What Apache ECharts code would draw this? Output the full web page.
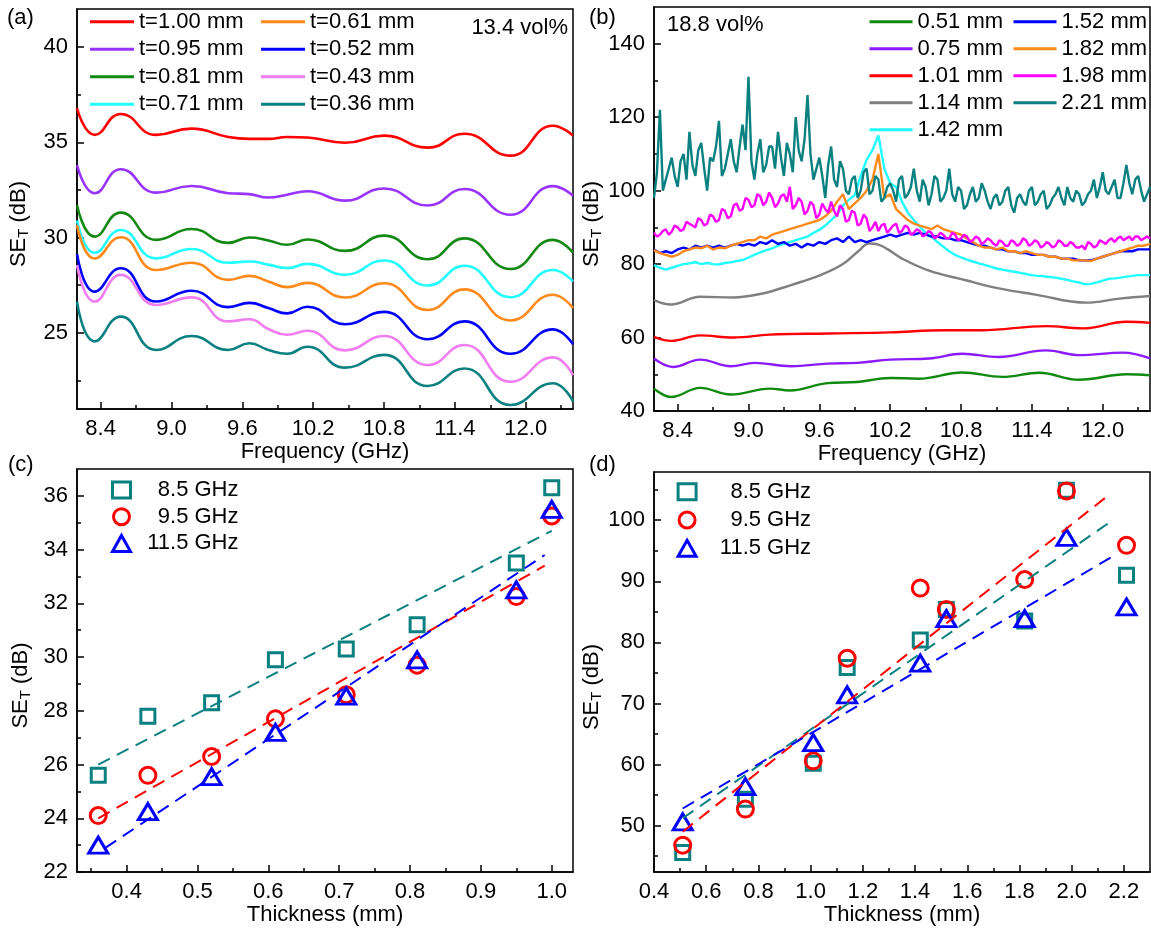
<!DOCTYPE html>
<html><head><meta charset="utf-8">
<script src="https://cdn.jsdelivr.net/npm/echarts@6/dist/echarts.min.js"></script>
<style>html,body{margin:0;padding:0;background:#fff}#c{width:1151px;height:930px}</style>
</head><body><div id="c"></div>
<script>
// ---------------- Panel (a): 13.4 vol%, SE_T vs frequency ----------------
const freqA = [8.20, 8.35, 8.57, 8.87, 9.17, 9.48, 9.66, 9.82, 9.98, 10.15, 10.47, 10.80, 11.17, 11.48, 11.87, 12.23, 12.40];
const a100 = [36.79, 35.39, 36.49, 35.39, 35.72, 35.28, 35.18, 35.18, 35.28, 35.25, 34.98, 35.35, 34.72, 35.45, 34.30, 35.87, 35.35];
const a095 = [33.80, 32.33, 33.59, 32.36, 32.71, 32.33, 32.28, 32.10, 32.25, 32.43, 31.94, 32.58, 31.68, 32.55, 31.20, 32.70, 32.20];
const a081 = [31.70, 30.05, 31.31, 29.88, 30.45, 29.72, 30.00, 29.85, 29.62, 29.90, 29.30, 30.10, 28.86, 29.96, 28.35, 29.88, 29.20];
const a071 = [30.90, 29.20, 30.40, 28.91, 29.40, 28.68, 28.74, 28.58, 28.40, 28.62, 28.05, 28.80, 27.48, 28.52, 26.87, 28.30, 27.70];
const a061 = [30.66, 28.90, 30.02, 28.30, 28.68, 27.78, 27.99, 27.70, 27.40, 27.62, 26.85, 27.60, 26.20, 27.28, 25.65, 27.00, 26.30];
const a052 = [29.14, 27.16, 28.39, 26.64, 27.21, 26.35, 26.57, 26.30, 26.02, 26.37, 25.45, 26.10, 24.66, 25.60, 23.90, 25.18, 24.40];
const a043 = [28.56, 26.64, 28.04, 26.46, 26.86, 25.60, 25.71, 25.20, 24.90, 25.11, 24.08, 24.83, 23.31, 24.36, 22.43, 23.71, 22.78];
const a036 = [26.64, 24.55, 25.85, 24.10, 24.83, 24.10, 24.45, 24.10, 23.90, 24.27, 23.17, 23.84, 22.21, 23.13, 21.21, 22.35, 21.40];
const namesA = ['t=1.00 mm', 't=0.95 mm', 't=0.81 mm', 't=0.71 mm', 't=0.61 mm', 't=0.52 mm', 't=0.43 mm', 't=0.36 mm'];
const colorsA = ['#ff0000', '#9933ff', '#138913', '#22ffff', '#ff8a1c', '#0000ff', '#f07ef0', '#0a8080'];

// ---------------- Panel (b): 18.8 vol% ----------------
const b051 = [[8.20,46.1],[8.345,43.8],[8.59,46.3],[8.85,44.5],[9.18,46.1],[9.35,45.6],[9.67,47.6],[9.92,47.9],[10.20,49.0],[10.44,48.8],[10.81,50.5],[11.15,49.3],[11.46,50.4],[11.80,48.5],[12.20,50.0],[12.40,49.7]];
const b075 = [[8.20,54.3],[8.36,52.0],[8.59,54.0],[8.85,52.2],[9.05,53.1],[9.36,52.2],[9.67,52.9],[9.92,53.1],[10.20,54.0],[10.53,54.3],[10.81,55.6],[11.12,54.7],[11.52,56.5],[11.80,55.2],[12.17,55.9],[12.40,54.3]];
const b101 = [[8.20,60.2],[8.345,59.1],[8.59,60.6],[8.87,60.0],[9.18,60.8],[9.67,61.1],[10.20,61.4],[10.66,62.0],[10.97,62.0],[11.52,63.1],[11.83,62.5],[12.20,64.3],[12.40,64.0]];
const b114 = [[8.20,70.2],[8.345,69.0],[8.59,71.1],[8.87,70.9],[9.12,72.0],[9.36,74.3],[9.61,77.0],[9.80,80.0],[9.93,83.5],[10.02,85.6],[10.10,85.3],[10.18,84.0],[10.30,81.5],[10.53,78.2],[10.84,75.6],[11.12,73.4],[11.43,71.7],[11.86,69.5],[12.14,70.6],[12.40,71.3]];
const freqB = [8.20,8.25,8.30,8.35,8.40,8.45,8.50,8.55,8.60,8.65,8.70,8.75,8.80,8.85,8.90,8.95,9.00,9.05,9.10,9.15,9.20,9.25,9.30,9.35,9.40,9.45,9.50,9.55,9.60,9.65,9.70,9.75,9.80,9.85,9.90,9.95,10.00,10.05,10.10,10.15,10.20,10.25,10.30,10.35,10.40,10.45,10.50,10.55,10.60,10.65,10.70,10.75,10.80,10.85,10.90,10.95,11.00,11.05,11.10,11.15,11.20,11.25,11.30,11.35,11.40,11.45,11.50,11.55,11.60,11.65,11.70,11.75,11.80,11.85,11.90,11.95,12.00,12.05,12.10,12.15,12.20,12.25,12.30,12.35,12.40];
const freqB2 = [8.200,8.225,8.250,8.275,8.300,8.325,8.350,8.375,8.400,8.425,8.450,8.475,8.500,8.525,8.550,8.575,8.600,8.625,8.650,8.675,
 8.700,8.725,8.750,8.775,8.800,8.825,8.850,8.875,8.900,8.925,8.950,8.975,9.000,9.025,9.050,9.075,9.100,9.125,9.150,9.175,
 9.200,9.225,9.250,9.275,9.300,9.325,9.350,9.375,9.400,9.425,9.450,9.475,9.500,9.525,9.550,9.575,9.600,9.625,9.650,9.675,
 9.700,9.725,9.750,9.775,9.800,9.825,9.850,9.875,9.900,9.925,9.950,9.975,10.000,10.025,10.050,10.075,10.100,10.125,10.150,10.175,
 10.200,10.225,10.250,10.275,10.300,10.325,10.350,10.375,10.400,10.425,10.450,10.475,10.500,10.525,10.550,10.575,10.600,10.625,10.650,10.675,
 10.700,10.725,10.750,10.775,10.800,10.825,10.850,10.875,10.900,10.925,10.950,10.975,11.000,11.025,11.050,11.075,11.100,11.125,11.150,11.175,
 11.200,11.225,11.250,11.275,11.300,11.325,11.350,11.375,11.400,11.425,11.450,11.475,11.500,11.525,11.550,11.575,11.600,11.625,11.650,11.675,
 11.700,11.725,11.750,11.775,11.800,11.825,11.850,11.875,11.900,11.925,11.950,11.975,12.000,12.025,12.050,12.075,12.100,12.125,12.150,12.175,
 12.200,12.225,12.250,12.275,12.300,12.325,12.350,12.375,12.400];
const b142 = [79.7,79,78.5,79,79.5,80,80.2,80.5,80,80.3, 80,79.9,80.3,80.5,80.8,81.1,81.8,82.5,83.2,83.8, 84.3,85,85.5,86,86.5,87,87.5,88.5,89.3,90.5, 92,93.5,96,97.5,98.8,104,108.4,111,115,106, 102,101,97,94,92,90.2,88.5,87.5,86,84.7, 83.5,82.5,81.8,81.2,80.7,80.2,79.8,79.3,78.8,78.5, 78.2,77.9,77.6,77.3,77,76.8,76.7,76.5,76.3,76, 75.7,75.3,75,74.5,74.6,75,75.5,76,76.1,76.3, 76.6,76.8,77,77,77];
const b152 = [84,83,83.5,83,84,84.5,84,85,84.5,85, 84.5,85,84.5,85,85.5,85,85.5,85,86,85.5, 86.5,85.5,86,85,85.5,84.5,85.5,85,86,85.5, 86.5,87,86,87.5,86,86.5,86,86.5,87,87.5, 88,87.5,88,88.5,88,88.5,88,87.5,87.5,87, 87,86.5,86.5,86,85.5,85,85,84.5,84,84, 83.5,83.5,83,83,82.5,82.5,82.5,82,82,81.5, 81.5,81.5,81,81,81,81.5,82,82.5,83,83.5, 83.5,83.5,84,84,84];
const b182 = [83.8,83,82.5,82,82.5,83.5,84,84.5,84.3,85, 84,84.5,84.3,85,85.5,86,86.5,86.5,87.5,87, 88,88.5,89,89.5,90,90.5,91,91.5,92,93, 94.5,97,99,95,96.5,98,100,103,110,98, 99,95,93.5,92,91,90.5,90,89.5,90.5,89.5, 89,88.5,88,87,86,85,84.5,84.5,84,84.5, 83.5,83.5,83,83.5,83,82.5,82.5,82,82,81.5, 81.5,81,81,81,80.8,81.5,82,82.5,83,83.5, 84,84.5,85,85,85.5];
const b198 = [88.5,87.5,88,89,89.5,88,88.8,90.5,90,89,89.5,91.5,91,90.5,90,92.5,92,90.5,91,93.5,
 93,91.5,92,95,94.5,92.5,93,96,96.5,94.5,95,98,97.5,95.5,96,99,98.5,96,97,99.5,
 98,95.5,96.5,98.5,99,97,101,95,96,98,97,93.5,94.5,97,96,92.5,93.5,96.5,95,94,
 97,94.5,93,96,95,91.5,92,94.5,94,90.5,91,93.5,92.5,89,90,91.5,89,90.5,91,88.5,
 89.5,90.5,91,88.5,89,90.5,90,88,88.5,89.5,89,87.5,88,89,88.5,87,87.5,88.5,88,87,
 87,88.5,88,86.5,87,88,87.5,86,86.5,87.5,87,85.5,86,87,86.5,85.5,85,86.5,86,85,
 85,86.5,86,85,85.5,87,86.5,85,85.5,86.5,86,84.5,85,86,85.5,84.5,85,86.5,86,85,
 85,86,85.5,84.5,84.5,85,84,86,85.5,84.5,85,86.5,86,85.5,86.5,87,86,87,87.5,86.5,
 87,87.5,86.5,87.5,87.5,86.5,87,87.5,87];
const b221 = [98,105,122,100,103,106,109,104,101,108,110,103,116,107,104,111,113,106,100,109,
 108,112,119,104,106,110,114,108,105,112,118,111,131,108,103,110,114,105,107,112,
 112,106,116,109,104,113,110,105,120,111,108,114,126,110,103,106,109,104,98,107,
 112,103,101,108,106,100,99,103,104,98,100,105,106,99,100,104,103,97,98,101,
 102,100,97,103,104,98,99,101,106,100,97,103,101,96,99,104,103,97,98,100,
 106,99,97,101,100,95,96,99,101,97,98,102,100,97,95,98,99,96,97,100,
 101,96,94,98,99,97,96,100,101,96,97,99,100,95,96,98,99,101,98,96,
 101,98,97,100,99,96,97,99,100,103,98,101,105,100,99,101,103,98,98,102,
 107,102,99,103,104,100,97,99,101];
const namesB = ['0.51 mm', '0.75 mm', '1.01 mm', '1.14 mm', '1.42 mm', '1.52 mm', '1.82 mm', '1.98 mm', '2.21 mm'];
const colorsB = ['#0f8a0f', '#8c1aff', '#ff0000', '#808080', '#22ffff', '#0000ff', '#ff8a1c', '#ff00ff', '#0a8080'];

// ---------------- Panel (c): 13.4 vol% SE_T vs thickness ----------------
const thickC = [0.36, 0.43, 0.52, 0.61, 0.71, 0.81, 0.95, 1.00];
const c85 = [25.6, 27.8, 28.3, 29.9, 30.3, 31.2, 33.5, 36.3];
const c95 = [24.1, 25.6, 26.3, 27.7, 28.6, 29.7, 32.25, 35.25];
const c115 = [23.0, 24.25, 25.55, 27.2, 28.55, 29.9, 32.5, 35.5];
const fitC85 = [[0.36, 26.0], [1.00, 34.7]];
const fitC95 = [[0.36, 24.0], [0.99, 33.4]];
const fitC115 = [[0.37, 22.9], [0.99, 33.8]];

// ---------------- Panel (d): 18.8 vol% SE_T vs thickness ----------------
const thickD = [0.51, 0.75, 1.01, 1.14, 1.42, 1.52, 1.82, 1.98, 2.21];
const d85 = [45.6, 54.3, 60.2, 75.9, 80.4, 85.4, 83.5, 104.9, 91.0];
const d95 = [46.8, 52.7, 60.6, 77.4, 88.9, 85.4, 90.3, 104.8, 95.9];
const d115 = [50.6, 56.4, 63.6, 71.4, 76.6, 83.9, 83.9, 97.2, 85.8];
const fitD85 = [[0.51, 51.2], [2.15, 99.8]];
const fitD95 = [[0.51, 49.0], [2.15, 104.4]];
const fitD115 = [[0.51, 52.8], [2.15, 93.9]];
const freqNames = ['8.5 GHz', '9.5 GHz', '11.5 GHz'];

// ---------------- tick values ----------------
const ticksFreq = [8.4, 9.0, 9.6, 10.2, 10.8, 11.4, 12.0];
const minorFreq = [8.7, 9.3, 9.9, 10.5, 11.1, 11.7, 12.3];
const ticksYA = [25, 30, 35, 40];
const minorYA = [22.5, 27.5, 32.5, 37.5];
const ticksYB = [40, 60, 80, 100, 120, 140];
const minorYB = [50, 70, 90, 110, 130];
const ticksXC = [0.4, 0.5, 0.6, 0.7, 0.8, 0.9, 1.0];
const minorXC = [0.35, 0.45, 0.55, 0.65, 0.75, 0.85, 0.95];
const ticksYC = [22, 24, 26, 28, 30, 32, 34, 36];
const minorYC = [23, 25, 27, 29, 31, 33, 35];
const ticksXD = [0.4, 0.6, 0.8, 1.0, 1.2, 1.4, 1.6, 1.8, 2.0, 2.2];
const minorXD = [0.5, 0.7, 0.9, 1.1, 1.3, 1.5, 1.7, 1.9, 2.1];
const ticksYD = [50, 60, 70, 80, 90, 100];
const minorYD = [45, 55, 65, 75, 85, 95, 105];

const F = "'Liberation Sans', Arial, Helvetica, sans-serif";
const FS = 22;
const fmt1 = v => v.toFixed(1);
const fmt0 = v => String(Math.round(v));
const YNAME = '{m|SE}{s|T}{d| (dB)}';

function axes(dim, g, min, max, major, minor, name, nameGap, fmt) {
  const pos = dim === 'x' ? 'bottom' : 'left';
  const ns = {fontSize: FS, color: '#000', fontFamily: F};
  if (dim === 'y') {
    ns.rich = {
      m: {fontSize: FS, color: '#000', fontFamily: F},
      s: {fontSize: 15, color: '#000', fontFamily: F, padding: [10, 0, 0, 0]},
      d: {fontSize: FS, color: '#000', fontFamily: F, padding: [0, 30, 0, 0]}
    };
  }
  return [{
    type: 'value', gridIndex: g, position: pos, min: min, max: max,
    name: name, nameLocation: 'middle', nameGap: nameGap, nameTextStyle: ns,
    axisLine: {show: true, onZero: false, lineStyle: {color: '#000', width: 1.5}},
    axisTick: {show: true, inside: true, length: 7, lineStyle: {color: '#000', width: 1.5}, customValues: major},
    axisLabel: {show: true, customValues: major, fontSize: FS, color: '#000', fontFamily: F, margin: 9, formatter: fmt},
    splitLine: {show: false}
  }, {
    type: 'value', gridIndex: g, position: pos, min: min, max: max,
    axisLine: {show: false}, axisLabel: {show: false}, splitLine: {show: false},
    axisTick: {show: true, inside: true, length: 4, lineStyle: {color: '#000', width: 1.5}, customValues: minor}
  }];
}

const xAxis = [].concat(
  axes('x', 0, 8.2, 12.4, ticksFreq, minorFreq, 'Frequency (GHz)', 27, fmt1),
  axes('x', 1, 8.2, 12.4, ticksFreq, minorFreq, 'Frequency (GHz)', 27, fmt1),
  axes('x', 2, 0.33, 1.03, ticksXC, minorXC, 'Thickness (mm)', 30, fmt1),
  axes('x', 3, 0.4, 2.3, ticksXD, minorXD, 'Thickness (mm)', 27, fmt1)
);
const yAxis = [].concat(
  axes('y', 0, 21, 42, ticksYA, minorYA, YNAME, 46, fmt0),
  axes('y', 1, 40, 150, ticksYB, minorYB, YNAME, 42, fmt0),
  axes('y', 2, 22, 37, ticksYC, minorYC, YNAME, 44, fmt0),
  axes('y', 3, 42.4, 107.9, ticksYD, minorYD, YNAME, 42, fmt0)
);

const series = [];
const allA = [a100, a095, a081, a071, a061, a052, a043, a036];
allA.forEach((arr, k) => {
  series.push({
    name: namesA[k], type: 'line', xAxisIndex: 0, yAxisIndex: 0,
    data: freqA.map((f, i) => [f, arr[i]]), showSymbol: false, symbol: 'none', smooth: 0.5,
    lineStyle: {color: colorsA[k], width: 2.6}, itemStyle: {color: colorsA[k]}
  });
});
const allB = [b051, b075, b101, b114, b142, b152, b182, b198, b221];
allB.forEach((arr, k) => {
  let data;
  if (k < 4) data = arr;
  else if (k === 7 || k === 8) data = freqB2.map((f, i) => [f, arr[i]]);
  else data = freqB.map((f, i) => [f, arr[i]]);
  series.push({
    name: namesB[k], type: 'line', xAxisIndex: 2, yAxisIndex: 2,
    data: data, showSymbol: false, symbol: 'none', smooth: k < 4 ? 0.4 : false,
    lineStyle: {color: colorsB[k], width: 2.4}, itemStyle: {color: colorsB[k]}
  });
});

const markColors = ['#0a8080', '#ff0000', '#0000ff'];
const markSymbols = ['rect', 'circle', 'triangle'];
const markSizes = [14, 16, [19, 16]];
function addPanel(ax, thick, vals, fits) {
  fits.forEach((fit, k) => {
    series.push({
      name: 'fit' + ax + k, type: 'line', xAxisIndex: ax, yAxisIndex: ax, data: fit,
      showSymbol: false, symbol: 'none', silent: true,
      lineStyle: {color: markColors[k], width: 2, type: [13, 8]}
    });
  });
  vals.forEach((v, k) => {
    series.push({
      name: freqNames[k], type: 'scatter', xAxisIndex: ax, yAxisIndex: ax,
      data: thick.map((t, i) => [t, v[i]]), symbol: markSymbols[k], symbolSize: markSizes[k],
      itemStyle: {color: 'rgba(0,0,0,0)', borderColor: markColors[k], borderWidth: 3, opacity: 1}
    });
  });
}
addPanel(4, thickC, [c85, c95, c115], [fitC85, fitC95, fitC115]);
addPanel(6, thickD, [d85, d95, d115], [fitD85, fitD95, fitD115]);

const legText = {fontSize: FS, lineHeight: 22, color: '#000', fontFamily: F};
function lineLegend(names, left, top, w, gap) {
  return {data: names, orient: 'vertical', left: left, top: top, itemWidth: w, itemHeight: 3,
    itemGap: gap, icon: 'rect', textStyle: legText, selectedMode: false, padding: 0};
}
function symLegend(left, top, gap, w) {
  return {data: freqNames, orient: 'vertical', left: left, top: top, itemWidth: 18, itemHeight: 16,
    itemGap: gap, selectedMode: false, padding: 0,
    itemStyle: {borderWidth: 3},
    formatter: n => '{r|' + n + '}',
    textStyle: Object.assign({}, legText, {rich: {r: {width: w, align: 'right', fontSize: FS, color: '#000', fontFamily: F}}})};
}

const grid = [
  {left: 77, top: 9, width: 496, height: 400},
  {left: 654, top: 7, width: 496, height: 404},
  {left: 77, top: 469, width: 496, height: 403},
  {left: 654, top: 472, width: 496, height: 400}
].map(g => Object.assign(g, {show: true, borderColor: '#000', borderWidth: 1.5, backgroundColor: 'transparent', containLabel: false, outerBoundsMode: 'none'}));

const txt = (t, x, y, align) => ({type: 'text', x: x, y: y, silent: true,
  style: {text: t, fontSize: FS, fontFamily: F, fill: '#000', align: align || 'left', verticalAlign: 'middle'}});

const option = {
  backgroundColor: '#fff',
  animation: false,
  grid: grid,
  xAxis: xAxis,
  yAxis: yAxis,
  legend: [
    lineLegend(namesA.slice(0, 4), 90, 10.7, 44, 5.5),
    lineLegend(namesA.slice(4), 261, 10.7, 44, 5.5),
    lineLegend(namesB.slice(0, 5), 869.5, 10.7, 43, 5),
    lineLegend(namesB.slice(5), 1013.5, 10.7, 43, 5),
    symLegend(111, 479, 4.7, 103),
    symLegend(676.6, 480.7, 6.3, 110)
  ],
  graphic: [
    txt('(a)', 7, 17.5), txt('(b)', 589, 17.5), txt('(c)', 8, 465), txt('(d)', 589, 465),
    txt('13.4 vol%', 568, 28, 'right'), txt('18.8 vol%', 667, 25)
  ],
  series: series
};
const chart = echarts.init(document.getElementById('c'), null, {renderer: 'canvas'});
chart.setOption(option);
</script></body></html>
